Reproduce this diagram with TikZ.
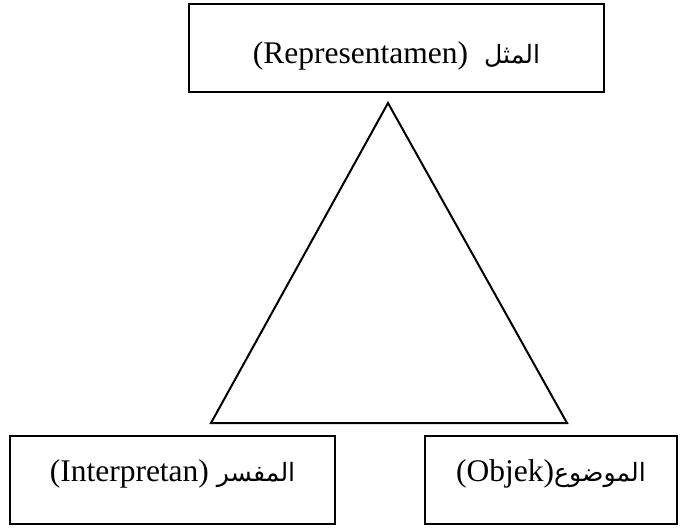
\documentclass[tikz,border=0pt]{standalone}
\usepackage{fontspec}
\setmainfont{Liberation Serif}
\newfontfamily\arabicfont[Script=Arabic,Scale=0.8]{DejaVu Sans}
\TeXXeTstate=1
\usepackage{tikz}

\begin{document}
\begin{tikzpicture} [x=1pt, y=-1pt,
  box/.style = {draw,
    rectangle,
    line width = 1.2pt,
    minimum height = 88pt,
    font = \fontsize{31.5}{36}\selectfont},
  toptext/.style = {text height = 37pt, text depth = 6.2pt},
  lowtext/.style = {text height = 22pt, text depth = 19.2pt}]

\useasboundingbox (0,0) rectangle (681,528);

\node (rep) at (396.5,48) [box, toptext, minimum width = 415pt]
  {(Representamen)\hspace{16pt}{\arabicfont\beginR المثل\endR}};
\node (int) at (172.5,480) [box, lowtext, minimum width = 325pt]
  {(Interpretan) {\arabicfont\beginR المفسر\endR}};
\node (obj) at (551,480) [box, lowtext, minimum width = 252pt]
  {(Objek){\arabicfont\beginR الموضوع\endR}};

\coordinate (apex) at (388,103);
\coordinate (baseL) at (211,423);
\coordinate (baseR) at (567,423);
\draw [line width = 2pt, line join = miter] (apex) -- (baseL) -- (baseR) -- cycle;

\end{tikzpicture}
\end{document}
